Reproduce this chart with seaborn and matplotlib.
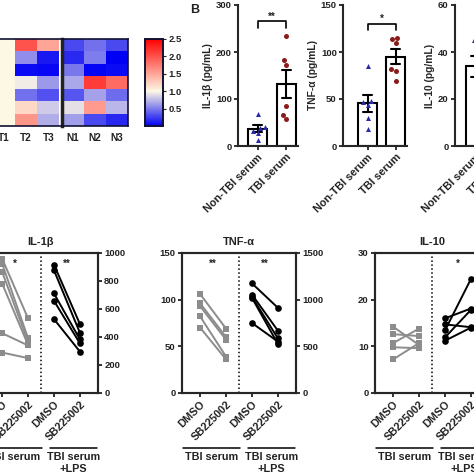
import numpy as np
import pandas as pd
import seaborn as sns
import matplotlib.pyplot as plt
import matplotlib.transforms as mtransforms
from matplotlib.colors import LinearSegmentedColormap

sns.set_style('ticks')
plt.rcParams['font.family'] = ['Liberation Sans', 'DejaVu Sans']
plt.rcParams['font.weight'] = 'bold'
plt.rcParams['axes.labelweight'] = 'bold'
plt.rcParams['axes.titleweight'] = 'bold'
plt.rcParams['text.color'] = '#222222'
plt.rcParams['xtick.color'] = '#222222'
plt.rcParams['ytick.color'] = '#222222'

# ---- heatmap (fold change) ----
t_cols = ['T1', 'T2', 'T3']
n_cols = ['N1', 'N2', 'N3']
t_vals = [[1.0, 2.0, 1.5], [1.0, 0.57, 0.1], [1.0, 0.04, 0.03], [1.0, 0.95, 0.62],
          [1.0, 0.45, 0.33], [1.0, 1.2, 0.82], [1.0, 1.6, 0.7]]
n_vals = [[0.3, 0.45, 0.3], [0.17, 0.5, 0.0], [0.48, 0.02, 0.04], [0.68, 2.13, 1.85],
          [0.35, 0.65, 0.43], [0.9, 1.57, 0.74], [0.64, 0.3, 0.16]]
cbar_ticks = [0.5, 1.0, 1.5, 2.0, 2.5]

# ---- panel B: serum levels ----
groups = ['Non-TBI serum', 'TBI serum']
il1b_non = [68, 40, 38, 32, 28, 12]
il1b_tbi = [235, 182, 172, 85, 65, 57]
tnf_non = [85, 48, 47, 44, 30, 18]
tnf_tbi = [115, 114, 110, 82, 80, 69]
il10_non = [45, 43, 38, 33, 30, 15]
il10_tbi = [40, 36, 30, 28, 25, 22]

# ---- panel C: paired DMSO / SB225002 ----
conds = ['DMSO', 'SB225002']
il1b_ser_dmso = [960, 924, 865, 782, 427, 289]
il1b_ser_sb = [533, 391, 367, 344, 340, 249]
il1b_lps_dmso = [917, 877, 711, 659, 528]
il1b_lps_sb = [493, 431, 384, 355, 296]
tnf_ser_dmso = [106, 96, 93, 82, 70]
tnf_ser_sb = [69, 60, 57, 39, 36]
tnf_lps_dmso = [1175, 1055, 1030, 1020, 750]
tnf_lps_sb = [913, 668, 586, 526, 551]
il10_ser_dmso = [14.2, 12.6, 10.7, 9.8, 7.2]
il10_ser_sb = [10.3, 12.2, 13.8, 9.6, 10.7]
il10_lps_dmso = [16.0, 14.7, 13.4, 11.9, 11.2]
il10_lps_sb = [18.1, 14.1, 24.4, 17.8, 14.0]

W = 474
fig = plt.figure(figsize=(4.74, 4.74), dpi=100)


def add_ax(x, y, w, h):
    return fig.add_axes([x / W, 1 - (y + h) / W, w / W, h / W])


# heatmap
cmap = LinearSegmentedColormap.from_list(
    'fc', [(0, '#0000f5'), (0.4, '#fdf8e4'), (1, '#ff0000')])
ax_t = add_ax(-7, 39, 68.6, 87)
ax_n = add_ax(62, 39, 66, 87)
cax = add_ax(145, 39, 18, 87)
sns.heatmap(pd.DataFrame(t_vals, columns=t_cols), cmap=cmap, vmin=0, vmax=2.5,
            cbar=False, yticklabels=False, ax=ax_t)
sns.heatmap(pd.DataFrame(n_vals, columns=n_cols), cmap=cmap, vmin=0, vmax=2.5,
            cbar_ax=cax, yticklabels=False, ax=ax_n)
ax_t.set_xlim(0, 3.1)
for a in (ax_t, ax_n):
    for s in a.spines.values():
        s.set_visible(True)
        s.set_color('#111133')
        s.set_linewidth(1.2)
    a.tick_params(axis='x', length=0, labelsize=7.2, pad=5)
ax_t.spines['right'].set_visible(False)
ax_n.spines['left'].set_linewidth(2.5)
ax_n.spines['left'].set_color('#222222')
cax.set_yticks(cbar_ticks)
cax.tick_params(length=2, labelsize=6.8, width=0.8, pad=2)
for s in cax.spines.values():
    s.set_visible(True)
    s.set_linewidth(1.2)
    s.set_color('#111133')

fig.text(195 / W, 1 - 10 / W, 'B', fontsize=9, fontweight='bold', va='center', ha='center')


def bar_panel(x0, w, xlim, non, tbi, ymax, yticks, ylabel, stars):
    ax = add_ax(x0, 5, w, 141)
    df = pd.DataFrame({'group': [groups[0]] * len(non) + [groups[1]] * len(tbi),
                       'val': non + tbi})
    sns.barplot(data=df, x='group', y='val', order=groups, errorbar='se', capsize=0.3,
                color='white', edgecolor='black', linewidth=1.5, width=0.67,
                err_kws={'color': 'black', 'linewidth': 1.5}, ax=ax)
    sns.swarmplot(data=df[df.group == groups[0]], x='group', y='val', order=groups,
                  marker='^', color='#2a2aa8', size=3.6, ax=ax)
    sns.swarmplot(data=df[df.group == groups[1]], x='group', y='val', order=groups,
                  marker='o', color='#8b1a1a', size=3.6, ax=ax)
    ax.set_xlim(*xlim)
    ax.set_ylim(0, ymax)
    ax.set_yticks(yticks)
    ax.set_xlabel('')
    ax.set_ylabel(ylabel, fontsize=7.4, labelpad=2)
    ax.set_xticks([0, 1])
    ax.set_xticklabels(groups, rotation=45, ha='right', rotation_mode='anchor', fontsize=7.8)
    ax.tick_params(axis='y', labelsize=6.8)
    ax.tick_params(width=1.3, length=3, pad=1.5)
    sns.despine(ax=ax)
    for s in ('left', 'bottom'):
        ax.spines[s].set_linewidth(1.5)
    if stars:
        yb = max(tbi) + 0.1 * ymax
        drop = 0.045 * ymax
        ax.plot([0, 0, 1, 1], [yb - drop, yb, yb, yb - drop], color='black', lw=1.2)
        ax.text(0.5, yb, stars, ha='center', va='bottom', fontsize=7)
    return ax


bar_panel(238, 60, (-0.69, 1.41), il1b_non, il1b_tbi, 300, [0, 100, 200, 300],
          'IL-1β (pg/mL)', '**')
bar_panel(343, 64, (-0.875, 1.41), tnf_non, tnf_tbi, 150, [0, 50, 100, 150],
          'TNF-α (pg/mL)', '*')
bar_panel(455, 64, (-0.73, 1.52), il10_non, il10_tbi, 60, [0, 20, 40, 60],
          'IL-10 (pg/mL)', None)


def pairs_df(dmso, sb, offset):
    n = len(dmso)
    return pd.DataFrame({'pair': list(range(n)) * 2,
                         'pos': [offset] * n + [offset + 1] * n,
                         'val': dmso + sb})


def pair_panel(x0, title, ser_d, ser_s, lps_d, lps_s, ylim_l, ticks_l, ylim_r, ticks_r, stars):
    ax = add_ax(x0, 253, 114, 140)
    axr = ax.twinx()
    sns.lineplot(data=pairs_df(ser_d, ser_s, 0), x='pos', y='val', units='pair',
                 estimator=None, color='#8c8c8c', marker='s', markersize=4.5,
                 markeredgewidth=0, linewidth=1.4, ax=ax)
    sns.lineplot(data=pairs_df(lps_d, lps_s, 2), x='pos', y='val', units='pair',
                 estimator=None, color='black', marker='o', markersize=4.8,
                 markeredgewidth=0, linewidth=1.4, ax=axr)
    ax.set_xlim(-0.7, 3.7)
    ax.set_ylim(*ylim_l)
    ax.set_yticks(ticks_l)
    axr.set_ylim(*ylim_r)
    axr.set_yticks(ticks_r)
    for a in (ax, axr):
        a.set_xlabel('')
        a.set_ylabel('')
        a.tick_params(labelsize=6.8, width=1.3, length=3, pad=1.5)
        for s in a.spines.values():
            s.set_linewidth(1.5)
    ax.set_xticks([0, 1, 2, 3])
    ax.set_xticklabels(conds * 2, rotation=45, ha='right', rotation_mode='anchor', fontsize=7.8)
    ax.axvline(1.5, ls=(0, (1, 1.6)), color='black', lw=1.1)
    ax.set_title(title, fontsize=8, pad=6)
    tr = mtransforms.blended_transform_factory(ax.transData, ax.transAxes)
    for xc, s in zip([0.5, 2.5], stars):
        ax.text(xc, 0.925, s, transform=tr, ha='center', va='center', fontsize=7)
    for (xa, xb), lab in zip([(-0.65, 1.55), (1.85, 3.65)], ['TBI serum', 'TBI serum\n+LPS']):
        ax.plot([xa, xb], [-0.395, -0.395], transform=tr, color='black', lw=1.1, clip_on=False)
        ax.text((xa + xb) / 2, -0.425, lab, transform=tr, ha='center', va='top',
                fontsize=7.8, linespacing=1.2)


pair_panel(-16, 'IL-1β', il1b_ser_dmso, il1b_ser_sb, il1b_lps_dmso, il1b_lps_sb,
           (0, 1000), [0, 200, 400, 600, 800, 1000], (0, 1000), [0, 200, 400, 600, 800, 1000],
           ['*', '**'])
pair_panel(182, 'TNF-α', tnf_ser_dmso, tnf_ser_sb, tnf_lps_dmso, tnf_lps_sb,
           (0, 150), [0, 50, 100, 150], (0, 1500), [0, 500, 1000, 1500], ['**', '**'])
pair_panel(375, 'IL-10', il10_ser_dmso, il10_ser_sb, il10_lps_dmso, il10_lps_sb,
           (0, 30), [0, 10, 20, 30], (0, 30), [0, 10, 20, 30], ['', '*'])

fig.savefig('out.png', dpi=100)
